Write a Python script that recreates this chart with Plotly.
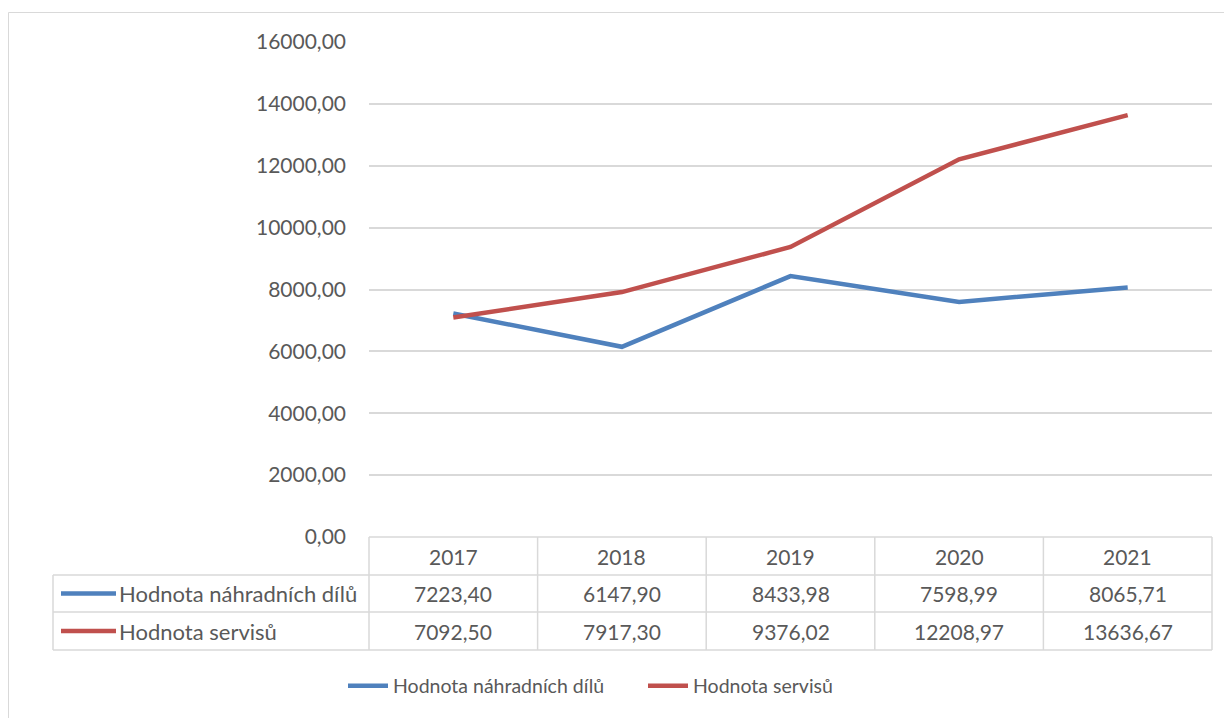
import plotly.graph_objects as go

years = ['2017', '2018', '2019', '2020', '2021']
parts = [7223.40, 6147.90, 8433.98, 7598.99, 8065.71]
services = [7092.50, 7917.30, 9376.02, 12208.97, 13636.67]
series_names = ['Hodnota náhradních dílů', 'Hodnota servisů']
series_colors = ['#4F81BD', '#C0504D']
y_ticks = [0, 2000, 4000, 6000, 8000, 10000, 12000, 14000, 16000]

OFF = 8  # page body margin
W, H = 1232 - OFF, 718 - OFF
L, R, T, B = 369, 1212, 42, 537  # plot area in screen pixels
FONT = 'Lato, Carlito, Calibri, sans-serif'
TXT = '#595959'
GRID = '#D9D9D9'
FS = 21


def px(x):
    return (x - L) / (R - L)


def py(y):
    return (B - y) / (B - T)


def fmt(v):
    return f'{v:.2f}'.replace('.', ',')


fig = go.Figure()
for name, vals, col in zip(series_names, [parts, services], series_colors):
    fig.add_trace(go.Scatter(x=years, y=vals, name=name, mode='lines',
                             line=dict(color=col, width=4.5),
                             cliponaxis=False))

shapes = []
annotations = []

# chart border
shapes.append(dict(type='rect', xref='paper', yref='paper',
                   x0=px(8.5), x1=px(1250), y0=py(750), y1=py(12.5),
                   line=dict(color=GRID, width=1), fillcolor='rgba(0,0,0,0)', layer='below'))

n = len(years)
row_y = [B, 575, 612, 650]
# horizontal table lines
shapes.append(dict(type='line', xref='paper', yref='paper', x0=0, x1=1,
                   y0=py(row_y[0]), y1=py(row_y[0]), line=dict(color=GRID, width=1.5)))
for yy in row_y[1:]:
    shapes.append(dict(type='line', xref='paper', yref='paper', x0=px(53), x1=1,
                       y0=py(yy), y1=py(yy), line=dict(color=GRID, width=1.5)))
# vertical lines (column boundaries of the category slots)
for k in range(n + 1):
    shapes.append(dict(type='line', xref='paper', yref='paper', x0=k / n, x1=k / n,
                       y0=py(row_y[0]), y1=py(row_y[-1]), line=dict(color=GRID, width=1.5)))
shapes.append(dict(type='line', xref='paper', yref='paper', x0=px(53), x1=px(53),
                   y0=py(row_y[1]), y1=py(row_y[-1]), line=dict(color=GRID, width=1.5)))

# header years
for i, yr in enumerate(years):
    annotations.append(dict(x=i, xref='x', y=py(556), yref='paper', text=yr,
                            xanchor='center', yanchor='middle',
                            showarrow=False, font=dict(family=FONT, size=FS, color=TXT)))
# values
for r, (name, vals, col) in enumerate(zip(series_names, [parts, services], series_colors)):
    yc = (row_y[r + 1] + row_y[r + 2]) / 2
    for i, v in enumerate(vals):
        annotations.append(dict(x=i, xref='x', y=py(yc), yref='paper', text=fmt(v),
                                xanchor='center', yanchor='middle',
                                showarrow=False, font=dict(family=FONT, size=FS, color=TXT)))
    annotations.append(dict(x=px(117), xref='paper', y=py(yc), yref='paper', text=name,
                            xanchor='left', yanchor='middle', showarrow=False,
                            font=dict(family=FONT, size=22, color=TXT)))
    shapes.append(dict(type='line', xref='paper', yref='paper', x0=px(61), x1=px(116),
                       y0=py(yc), y1=py(yc), line=dict(color=col, width=4.5)))

fig.update_layout(
    width=W, height=H,
    margin=dict(l=L - OFF, r=W - (R - OFF), t=T - OFF, b=H - (B - OFF), pad=0),
    paper_bgcolor='white', plot_bgcolor='white',
    separators=', ',
    font=dict(family=FONT, size=FS, color=TXT),
    xaxis=dict(type='category', range=[-0.5, n - 0.5], showticklabels=False,
               showgrid=False, zeroline=False, showline=False, ticks=''),
    yaxis=dict(range=[0, 16000], tickvals=y_ticks, tickformat='.2f',
               showgrid=True, gridcolor=GRID, gridwidth=1.5, zeroline=False,
               showline=False, ticks='', ticklabelstandoff=22,
               tickfont=dict(family=FONT, size=FS, color=TXT)),
    showlegend=True,
    legend=dict(orientation='h', x=px(343), xanchor='left', y=py(686), yanchor='middle',
                font=dict(family=FONT, size=19.5, color=TXT), itemwidth=40,
                entrywidthmode='pixels', entrywidth=245,
                bgcolor='rgba(0,0,0,0)'),
    shapes=shapes,
    annotations=annotations,
)

fig.write_html('out.html')
